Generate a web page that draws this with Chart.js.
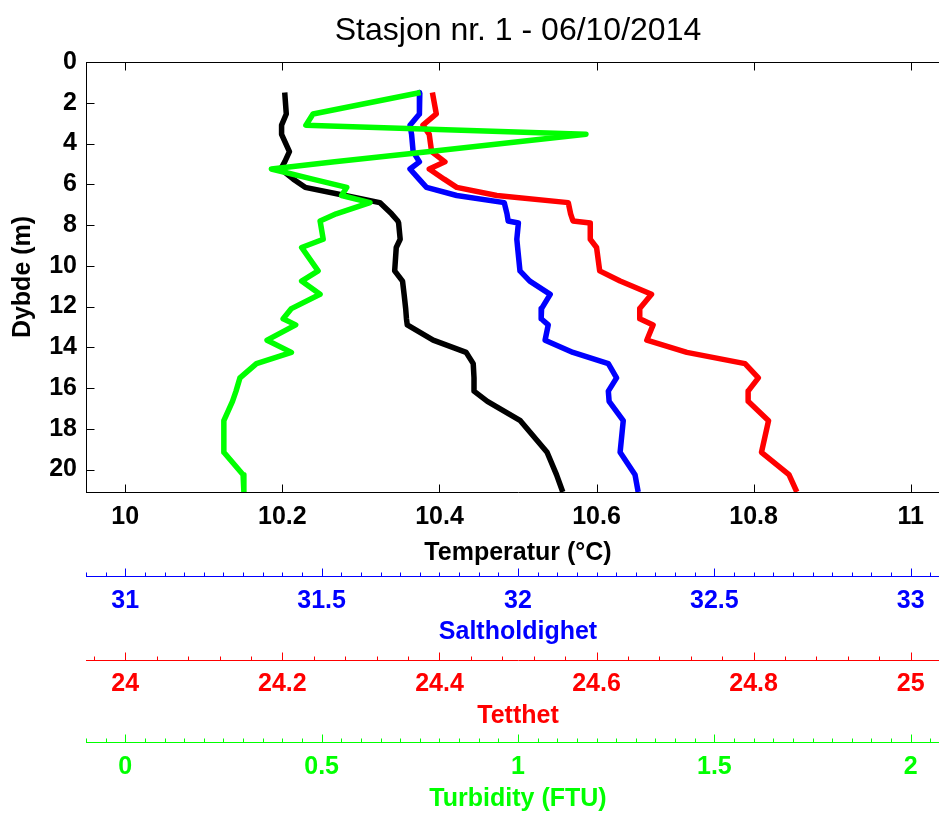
<!DOCTYPE html>
<html>
<head>
<meta charset="utf-8">
<title>Stasjon nr. 1 - 06/10/2014</title>
<style>
  html, body { margin: 0; padding: 0; overflow: hidden; background: #fff; }
  canvas { display: block; }
</style>
<script src="https://cdn.jsdelivr.net/npm/chart.js@4.4.1/dist/chart.umd.min.js"></script>
</head>
<body>
<canvas id="c" width="1036" height="814"></canvas>
<script>
// CTD profile, station 1 — depth in metres
const depth = [1.5, 2.55, 3.1, 3.55, 4.4, 4.9, 5.25, 5.75, 6.15, 6.55, 6.9, 7.45, 7.8, 7.9,
  8.7, 9.1, 10.25, 10.75, 11.4, 12.1, 12.6, 12.9, 13.65, 14.25, 14.8, 15.5, 16.15, 16.65,
  17.6, 19.15, 20.25, 21.1];

// Temperatur (°C)
const temperature = [10.203, 10.205, 10.199, 10.199, 10.209, 10.203, 10.198, 10.214, 10.229,
  10.28, 10.324, 10.339, 10.347, 10.348, 10.350, 10.345, 10.343, 10.353, 10.355, 10.357,
  10.358, 10.359, 10.392, 10.434, 10.443, 10.444, 10.444, 10.461, 10.503, 10.537, 10.549, 10.557];

// Saltholdighet
const salinity = [31.750, 31.749, 31.725, 31.729, 31.733, 31.749, 31.725, 31.748, 31.767,
  31.844, 31.965, 31.972, 31.975, 32.001, 31.997, 31.999, 32.005, 32.030, 32.082, 32.060,
  32.059, 32.077, 32.069, 32.140, 32.230, 32.251, 32.230, 32.232, 32.268, 32.260, 32.298, 32.306];

// Tetthet
const density = [24.391, 24.396, 24.379, 24.387, 24.390, 24.407, 24.387, 24.406, 24.422,
  24.473, 24.564, 24.567, 24.570, 24.592, 24.592, 24.600, 24.604, 24.630, 24.670, 24.655,
  24.655, 24.672, 24.664, 24.715, 24.789, 24.806, 24.793, 24.793, 24.819, 24.810, 24.845, 24.855];

// Turbidity (FTU)
const turbidity = [0.752, 0.478, 0.460, 1.173, 0.770, 0.533, 0.372, 0.477, 0.564, 0.551,
  0.623, 0.537, 0.496, 0.497, 0.504, 0.449, 0.491, 0.449, 0.496, 0.423, 0.402, 0.434,
  0.361, 0.423, 0.334, 0.292, 0.282, 0.273, 0.251, 0.251, 0.300, 0.302];

// Tick labels
const depthTicks = [0, 2, 4, 6, 8, 10, 12, 14, 16, 18, 20];
const tempTicks = [10, 10.2, 10.4, 10.6, 10.8, 11];
const salTicks = [31, 31.5, 32, 32.5, 33];
const densTicks = [24, 24.2, 24.4, 24.6, 24.8, 25];
const turbTicks = [0, 0.5, 1, 1.5, 2];

const FONT = "'Liberation Sans', Arial, Helvetica, sans-serif";
Chart.defaults.font.family = FONT;
Chart.defaults.color = '#000';

const toPoints = vals => depth.map((d, i) => ({ x: vals[i], y: d }));

const BLUE = '#0000ff', RED = '#ff0000', GREEN = '#00ff00', BLACK = '#000000';

// extra bottom axes: id, colour, minor tick step
const extraAxes = [
  { id: 'xs', color: BLUE, minor: 0.05 },
  { id: 'xd', color: RED, minor: 0.04 },
  { id: 'xt', color: GREEN, minor: 0.05 }
];

const fixedTicks = arr => scale => { scale.ticks = arr.map(value => ({ value })); };
const fmt = v => String(+Number(v).toFixed(3));

function bottomAxis(opts) {
  return {
    type: 'linear',
    position: 'bottom',
    min: opts.min,
    max: opts.max,
    weight: opts.weight,
    afterBuildTicks: fixedTicks(opts.ticks),
    afterFit: s => { s.height = opts.height; },
    grid: { display: false, drawTicks: false },
    border: { display: true, color: opts.color, width: 1 },
    ticks: {
      color: opts.color,
      font: { size: 25, weight: 'bold' },
      padding: opts.tickPad,
      autoSkip: false,
      maxRotation: 0,
      callback: fmt
    },
    title: {
      display: true,
      text: opts.title,
      color: opts.color,
      font: { size: 25, weight: 'bold' },
      padding: { top: 0, bottom: opts.titlePad }
    }
  };
}

// tick marks: inward on the plot box, upward on the extra axes
const axisMarks = {
  id: 'axisMarks',
  afterDraw(chart) {
    const { ctx, chartArea: a, scales } = chart;
    const seg = (x1, y1, x2, y2) => { ctx.beginPath(); ctx.moveTo(x1, y1); ctx.lineTo(x2, y2); ctx.stroke(); };
    ctx.save();
    ctx.lineWidth = 1;
    ctx.strokeStyle = BLACK;
    const top = Math.round(a.top) + 0.5;
    const bot = Math.round(a.bottom) + 0.5;
    const left = Math.round(a.left) + 0.5;
    const right = Math.round(a.right) - 0.5;
    seg(a.left, top, a.right, top);
    seg(right, a.top, right, a.bottom);
    for (const v of tempTicks) {
      const x = Math.round(scales.x.getPixelForValue(v)) + 0.5;
      seg(x, bot, x, bot - 8);
      seg(x, top, x, top + 8);
    }
    for (const v of depthTicks) {
      const y = Math.round(scales.y.getPixelForValue(v)) + 0.5;
      seg(left, y, left + 8, y);
      seg(right, y, right - 8, y);
    }
    for (const ax of extraAxes) {
      const s = scales[ax.id];
      const y0 = Math.round(s.top) + 0.5;
      ctx.strokeStyle = ax.color;
      const majors = s.ticks.map(t => t.value);
      for (const v of majors) {
        const x = Math.round(s.getPixelForValue(v)) + 0.5;
        seg(x, y0, x, y0 - 8);
      }
      const n0 = Math.ceil(s.min / ax.minor - 1e-6), n1 = Math.floor(s.max / ax.minor + 1e-6);
      for (let n = n0; n <= n1; n++) {
        const v = n * ax.minor;
        if (majors.some(m => Math.abs(m - v) < 1e-6)) continue;
        const x = Math.round(s.getPixelForValue(v)) + 0.5;
        seg(x, y0, x, y0 - 4);
      }
    }
    ctx.restore();
  }
};

const lineStyle = { borderWidth: 5.5, pointRadius: 0, fill: false, tension: 0, borderJoinStyle: 'round', yAxisID: 'y' };

new Chart(document.getElementById('c'), {
  type: 'line',
  data: {
    datasets: [
      { ...lineStyle, label: 'Temperatur', data: toPoints(temperature), borderColor: BLACK, xAxisID: 'x', order: 4 },
      { ...lineStyle, label: 'Saltholdighet', data: toPoints(salinity), borderColor: BLUE, xAxisID: 'xs', order: 3 },
      { ...lineStyle, label: 'Tetthet', data: toPoints(density), borderColor: RED, xAxisID: 'xd', order: 2 },
      { ...lineStyle, label: 'Turbidity (FTU)', data: toPoints(turbidity), borderColor: GREEN, xAxisID: 'xt', order: 1 }
    ]
  },
  options: {
    responsive: false,
    animation: false,
    indexAxis: 'y',
    layout: { padding: 0 },
    plugins: {
      legend: { display: false },
      tooltip: { enabled: false },
      title: {
        display: true,
        text: 'Stasjon nr. 1 - 06/10/2014',
        color: BLACK,
        font: { size: 32, weight: 'normal' },
        padding: { top: 12, bottom: 11.6 }
      }
    },
    scales: {
      y: {
        type: 'linear',
        position: 'left',
        reverse: true,
        min: 0,
        max: 21.1,
        afterBuildTicks: fixedTicks(depthTicks),
        afterFit: s => { s.width = 86; },
        grid: { display: false, drawTicks: false },
        border: { display: true, color: BLACK, width: 1 },
        ticks: { font: { size: 25, weight: 'bold' }, padding: 9, autoSkip: false, callback: fmt },
        title: { display: true, text: 'Dybde (m)', font: { size: 25, weight: 'bold' }, padding: { top: 8, bottom: 0 } }
      },
      yr: {
        type: 'linear',
        position: 'right',
        reverse: true,
        min: 0,
        max: 21.1,
        afterFit: s => { s.width = 86; },
        grid: { display: false, drawTicks: false },
        border: { display: false },
        ticks: { display: false }
      },
      x: bottomAxis({ min: 9.95, max: 11.05, weight: 0, ticks: tempTicks, color: BLACK, height: 84, tickPad: 10, titlePad: 8, title: 'Temperatur (\u00B0C)' }),
      xs: bottomAxis({ min: 30.9, max: 33.1, weight: 1, ticks: salTicks, color: BLUE, height: 84, tickPad: 10, titlePad: 13, title: 'Saltholdighet' }),
      xd: bottomAxis({ min: 23.95, max: 25.05, weight: 2, ticks: densTicks, color: RED, height: 82, tickPad: 9, titlePad: 11, title: 'Tetthet' }),
      xt: bottomAxis({ min: -0.1, max: 2.1, weight: 3, ticks: turbTicks, color: GREEN, height: 72, tickPad: 10, titlePad: 0, title: 'Turbidity (FTU)' })
    }
  },
  plugins: [axisMarks]
});
</script>
</body>
</html>
